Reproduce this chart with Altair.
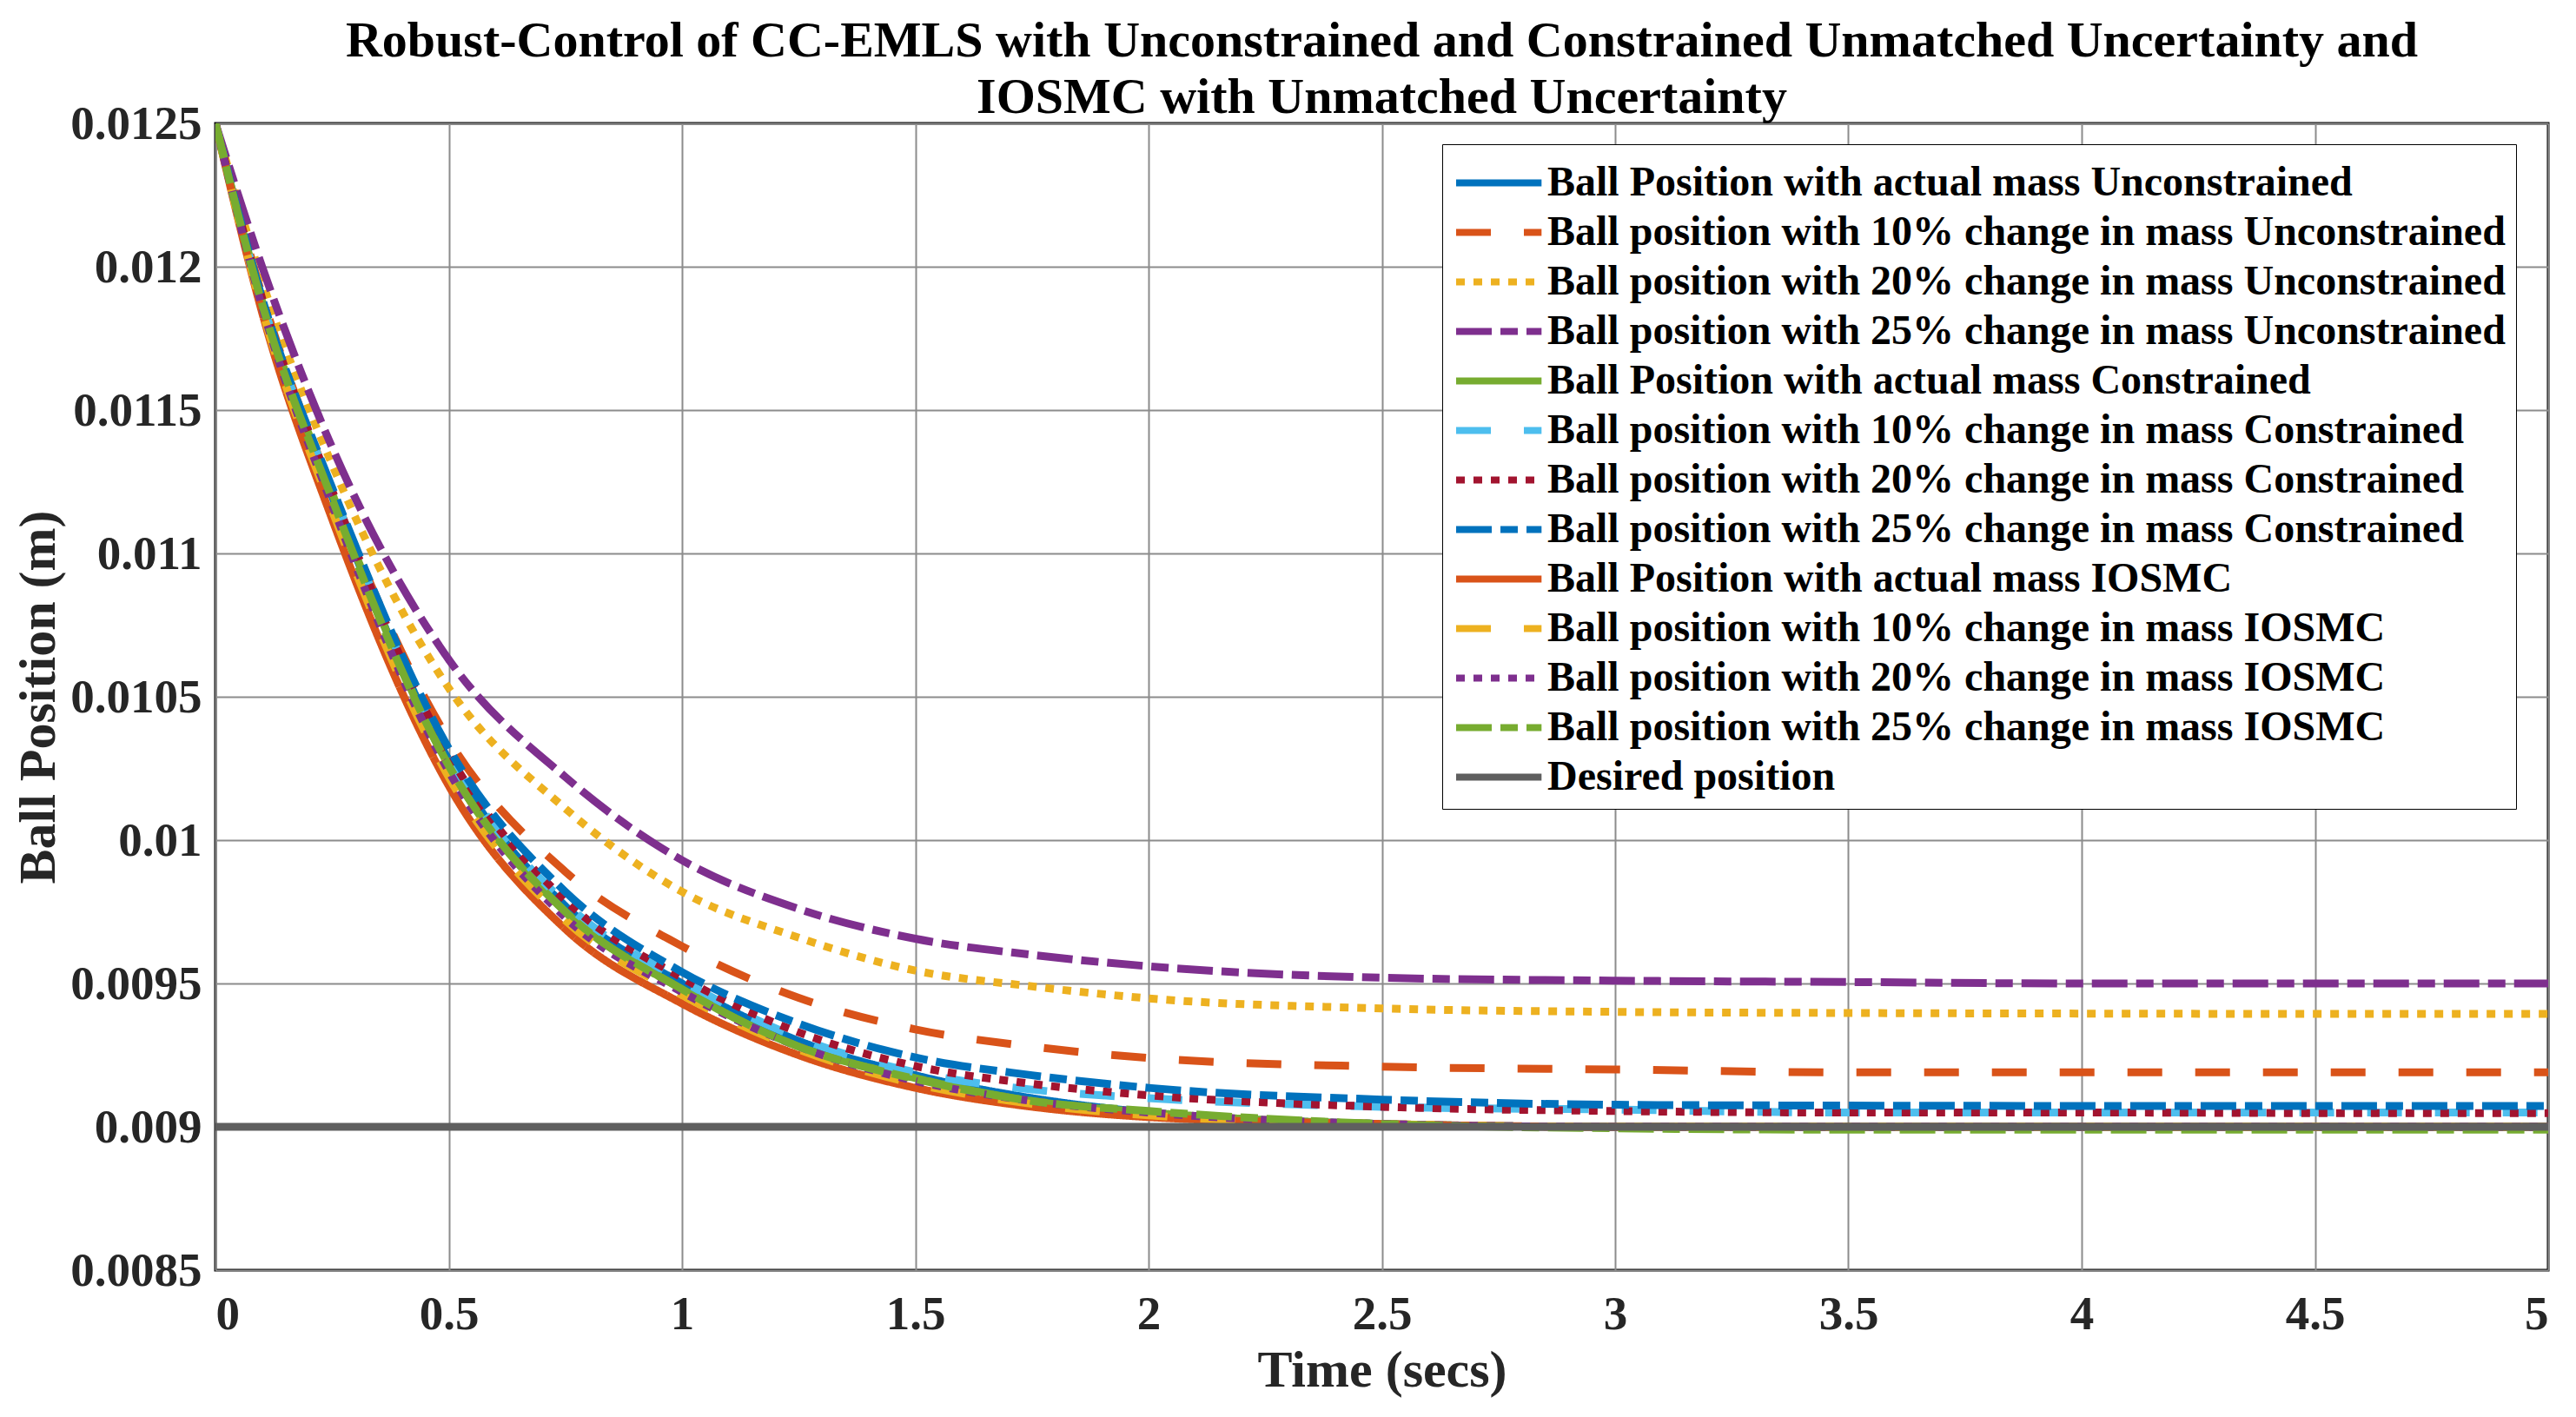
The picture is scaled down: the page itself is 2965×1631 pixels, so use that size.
import altair as alt
import pandas as pd

t = [0, 0.1, 0.25, 0.5, 0.75, 1.0, 1.25, 1.5, 1.75, 2.0, 2.5, 3.0, 3.5, 4.0, 4.5, 5.0]

unc_actual = [0.0125, 0.01187, 0.01120, 0.01028, 0.00977, 0.00950, 0.00930, 0.00918, 0.00910, 0.00905, 0.00901, 0.00900, 0.00900, 0.00900, 0.00900, 0.00900]
unc_10 = [0.0125, 0.01190, 0.01122, 0.01035, 0.00989, 0.00963, 0.00945, 0.00934, 0.00928, 0.00924, 0.00921, 0.00920, 0.00919, 0.00919, 0.00919, 0.00919]
unc_20 = [0.0125, 0.01195, 0.01131, 0.01053, 0.01011, 0.00982, 0.00966, 0.009545, 0.00949, 0.009448, 0.009413, 0.009401, 0.009397, 0.009395, 0.009394, 0.009394]
unc_25 = [0.0125, 0.01200, 0.01137, 0.01063, 0.01022, 0.00993, 0.00976, 0.009656, 0.00960, 0.00956, 0.00952, 0.00951, 0.009505, 0.00950, 0.00950, 0.00950]
con_actual = [0.0125, 0.01188, 0.01121, 0.01026, 0.00975, 0.00948, 0.00928, 0.00917, 0.00909, 0.00905, 0.00901, 0.00900, 0.00900, 0.00900, 0.00900, 0.00900]
con_10 = [0.0125, 0.01188, 0.01122, 0.01029, 0.00978, 0.00951, 0.00931, 0.00919, 0.00913, 0.00910, 0.00907, 0.00906, 0.00905, 0.00905, 0.00905, 0.00905]
con_20 = [0.0125, 0.01189, 0.01122, 0.01030, 0.00979, 0.00952, 0.00933, 0.009212, 0.00915, 0.00911, 0.00907, 0.009055, 0.00905, 0.00905, 0.009048, 0.009048]
con_25 = [0.0125, 0.01189, 0.01123, 0.01032, 0.00982, 0.00954, 0.00936, 0.009242, 0.00918, 0.009136, 0.009095, 0.009077, 0.009074, 0.009073, 0.009073, 0.009073]
ios_actual = [0.0125, 0.01184, 0.01112, 0.01019, 0.00969, 0.00943, 0.00925, 0.009136, 0.00907, 0.009034, 0.00901, 0.00900, 0.00900, 0.00900, 0.00900, 0.00900]
ios_10 = [0.0125, 0.01185, 0.01115, 0.01022, 0.00972, 0.00946, 0.00927, 0.00915, 0.00908, 0.00904, 0.00901, 0.00900, 0.00900, 0.00900, 0.00900, 0.00900]
ios_20 = [0.0125, 0.01186, 0.01117, 0.01024, 0.00973, 0.00947, 0.00928, 0.00916, 0.00909, 0.00905, 0.00901, 0.00900, 0.00900, 0.00900, 0.00900, 0.00900]
ios_25 = [0.0125, 0.01187, 0.01119, 0.01026, 0.00975, 0.00948, 0.00928, 0.009167, 0.00909, 0.009055, 0.00901, 0.008995, 0.00899, 0.00899, 0.00899, 0.00899]
desired_t = [0, 5]
desired_y = [0.009, 0.009]

names = [
    "Ball Position with actual mass Unconstrained",
    "Ball position with 10% change in mass Unconstrained",
    "Ball position with 20% change in mass Unconstrained",
    "Ball position with 25% change in mass Unconstrained",
    "Ball Position with actual mass Constrained",
    "Ball position with 10% change in mass Constrained",
    "Ball position with 20% change in mass Constrained",
    "Ball position with 25% change in mass Constrained",
    "Ball Position with actual mass IOSMC",
    "Ball position with 10% change in mass IOSMC",
    "Ball position with 20% change in mass IOSMC",
    "Ball position with 25% change in mass IOSMC",
    "Desired position",
]
series = [unc_actual, unc_10, unc_20, unc_25, con_actual, con_10, con_20, con_25,
          ios_actual, ios_10, ios_20, ios_25]
colors = ["#0072BD", "#D95319", "#EDB120", "#7E2F8E", "#77AC30", "#4DBEEE", "#A2142F",
          "#0072BD", "#D95319", "#EDB120", "#7E2F8E", "#77AC30", "#5f5f5f"]
solid = [1, 0]
dashed = [40, 38]
dotted = [10, 10]
dashdot = [41, 10, 20, 10]
dashes = [solid, dashed, dotted, dashdot, solid, dashed, dotted, dashdot,
          solid, dashed, dotted, dashdot, solid]

rows = []
for i, (nm, ys) in enumerate(zip(names[:-1], series)):
    for tt, yy in zip(t, ys):
        rows.append({"t": tt, "y": yy, "series": nm, "ord": i})
for tt, yy in zip(desired_t, desired_y):
    rows.append({"t": tt, "y": yy, "series": names[-1], "ord": 12})
df = pd.DataFrame(rows)

FONT = "Liberation Serif"

x_ticks = [0, 0.5, 1, 1.5, 2, 2.5, 3, 3.5, 4, 4.5, 5]
y_ticks = [0.0085, 0.009, 0.0095, 0.01, 0.0105, 0.011, 0.0115, 0.012, 0.0125]

chart = alt.Chart(df).mark_line(strokeWidth=9, interpolate="monotone", clip=True).encode(
    x=alt.X("t:Q", scale=alt.Scale(domain=[0, 5], nice=False, zero=False),
            axis=alt.Axis(title="Time (secs)", values=x_ticks, format="~g")),
    y=alt.Y("y:Q", scale=alt.Scale(domain=[0.0085, 0.0125], nice=False, zero=False),
            axis=alt.Axis(title="Ball Position (m)", values=y_ticks, format="~g")),
    color=alt.Color("series:N", sort=names,
                    scale=alt.Scale(domain=names, range=colors),
                    legend=alt.Legend(title=None, orient="none", legendX=1412, legendY=24,
                                      symbolType="M-1,0L2.45,0", symbolSize=3249,
                                      symbolStrokeWidth=8, labelFont=FONT, labelFontSize=48,
                                      labelFontWeight="bold", labelColor="black",
                                      labelLimit=2000, labelOffset=44,
                                      strokeColor="black", fillColor="white",
                                      padding=12, rowPadding=0)),
    strokeDash=alt.StrokeDash("series:N", sort=names,
                              scale=alt.Scale(domain=names, range=dashes), legend=None),
    order=alt.Order("ord:Q"),
    detail="series:N",
).properties(
    width=2685, height=1320,
    autosize=alt.AutoSizeParams(type="none"),
    padding={"left": 240, "top": 134, "right": 24, "bottom": 161},
    title=alt.TitleParams(
        text=["Robust-Control of CC-EMLS with Unconstrained and Constrained Unmatched Uncertainty and",
              "IOSMC with Unmatched Uncertainty"],
        font=FONT, fontSize=58, fontWeight="bold", color="black",
        anchor="middle", frame="group", lineHeight=65, offset=-27),
).configure_view(
    stroke="black", strokeWidth=3
).configure_axis(
    labelFont=FONT, labelFontSize=55, labelFontWeight="bold", labelColor="#262626",
    titleFont=FONT, titleFontSize=60, titleFontWeight="bold", titleColor="#262626",
    grid=True, gridColor="#8c8c8c", gridWidth=2, domain=False, tickSize=0,
).configure_axisX(
    labelPadding=24, titlePadding=8,
).configure_axisY(
    labelPadding=16, titlePadding=5,
)

chart.save("out.html", embed_options={"renderer": "svg", "actions": False})
